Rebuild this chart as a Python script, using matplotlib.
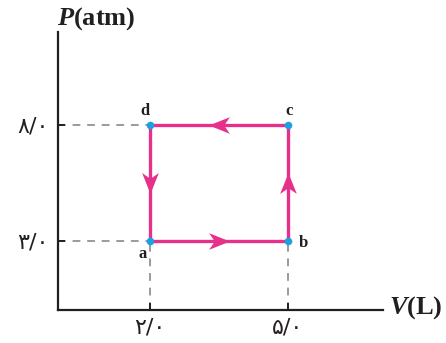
import numpy as np
import matplotlib.pyplot as plt
from matplotlib.path import Path

# cycle a -> b -> c -> d -> a
point_names = ['a', 'b', 'c', 'd']
volumes = [2.0, 5.0, 5.0, 2.0]
pressures = [3.0, 3.0, 8.0, 8.0]

v_ticks = [2.0, 5.0]
v_tick_labels = ['۲/۰', '۵/۰']
p_ticks = [3.0, 8.0]
p_tick_labels = ['۳/۰', '۸/۰']

pink = '#E5318A'
blue = '#1BA1E2'
dark = '#231F20'
grey = '#9A9A9A'

plt.rcParams['mathtext.fontset'] = 'custom'
plt.rcParams['mathtext.it'] = 'Liberation Serif:italic:bold'
plt.rcParams['mathtext.rm'] = 'Liberation Serif:bold'


def arrow_marker(angle):
    # barbed arrow head pointing along +x, then rotated
    pts = np.array([[1.0, 0.0], [-1.0, 0.8], [-0.45, 0.0], [-1.0, -0.8], [1.0, 0.0]])
    c, s = np.cos(angle), np.sin(angle)
    rot = pts @ np.array([[c, s], [-s, c]])
    codes = [Path.MOVETO, Path.LINETO, Path.LINETO, Path.LINETO, Path.CLOSEPOLY]
    return Path(rot, codes)


fig = plt.figure(figsize=(4.46, 3.43), dpi=100)
ax = fig.add_axes([0.130, 0.096, 0.729, 0.811])
ax.set_xlim(0, 7.07)
ax.set_ylim(0, 12)

for side in ['top', 'right']:
    ax.spines[side].set_visible(False)
for side in ['left', 'bottom']:
    ax.spines[side].set_color(dark)
    ax.spines[side].set_linewidth(1.6)

ax.set_xticks(v_ticks)
ax.set_xticklabels(v_tick_labels, family='DejaVu Sans', fontsize=16)
ax.set_yticks(p_ticks)
ax.set_yticklabels(p_tick_labels, family='DejaVu Sans', fontsize=16)
ax.tick_params(direction='in', length=5, width=1.4, color=dark,
               labelcolor=dark, pad=5)
ax.tick_params(axis='y', pad=7)

# dashed guide lines
dash = (0, (4, 3.5))
ax.plot([0, volumes[3]], [pressures[3], pressures[3]], ls=dash,
        color=grey, lw=1.4, zorder=1)
ax.plot([0, volumes[0]], [pressures[0], pressures[0]], ls=dash,
        color=grey, lw=1.4, zorder=1)
ax.plot([volumes[0], volumes[0]], [0, pressures[0]], ls=dash,
        color=grey, lw=1.4, zorder=1)
ax.plot([volumes[1], volumes[1]], [0, pressures[1]], ls=dash,
        color=grey, lw=1.4, zorder=1)

# the cycle
ax.plot(volumes + volumes[:1], pressures + pressures[:1], color=pink,
        lw=2.4, solid_capstyle='butt', zorder=2)

# arrow heads in the middle of each side
for i in range(4):
    v0, p0 = volumes[i], pressures[i]
    v1, p1 = volumes[(i + 1) % 4], pressures[(i + 1) % 4]
    angle = np.arctan2(p1 - p0, v1 - v0)
    ax.plot([(v0 + v1) / 2], [(p0 + p1) / 2], marker=arrow_marker(angle),
            ms=15, color=pink, mew=0, ls='none', zorder=3)

ax.scatter(volumes, pressures, s=30, color=blue, zorder=4, linewidths=0)

label_offsets = {'a': (-5, -10), 'b': (11, -1.5), 'c': (1, 10), 'd': (-3.5, 10)}
for name, v, p in zip(point_names, volumes, pressures):
    dx, dy = label_offsets[name]
    ax.annotate(name, (v, p), xytext=(dx, dy), textcoords='offset points',
                ha='center', va='center', family='Liberation Serif',
                fontweight='bold', fontsize=12, color=dark)

fig.text(0.128, 0.945, r'$\mathit{P}$(atm)', family='Liberation Serif',
         fontweight='bold', fontsize=19, color=dark, ha='left', va='center')
fig.text(0.872, 0.103, r'$\mathit{V}$(L)', family='Liberation Serif',
         fontweight='bold', fontsize=19, color=dark, ha='left', va='center')

fig.savefig('out.png', dpi=100)
